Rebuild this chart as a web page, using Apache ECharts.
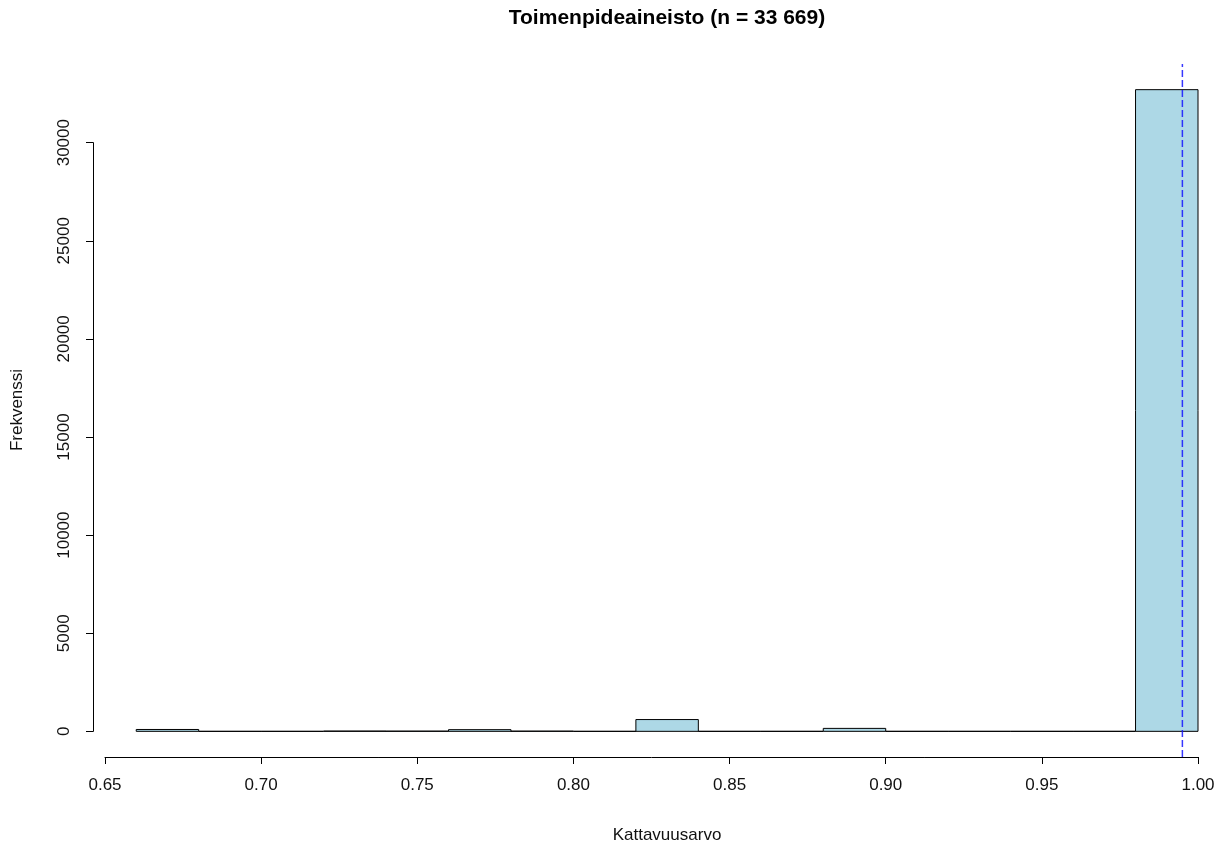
<!DOCTYPE html>
<html>
<head>
<meta charset="utf-8">
<script src="https://cdn.jsdelivr.net/npm/echarts@6/dist/echarts.min.js"></script>
<style>
  html, body { margin: 0; padding: 0; background: #fff; }
  #chart { width: 1222px; height: 847px; }
</style>
</head>
<body>
<div id="chart"></div>
<script>
// Histogram bin edges (lower edge of each 0.02-wide bin) and counts
const binStarts = [0.66, 0.68, 0.70, 0.72, 0.74, 0.76, 0.78, 0.80, 0.82, 0.84, 0.86, 0.88, 0.90, 0.92, 0.94, 0.96, 0.98];
const binWidth = 0.02;
const counts = [95, 0, 0, 15, 12, 85, 12, 0, 600, 0, 0, 150, 0, 0, 0, 0, 32700];
const refLine = 0.995;           // dashed reference value
const xTicks = [0.65, 0.70, 0.75, 0.80, 0.85, 0.90, 0.95, 1.00];
const yTicks = [0, 5000, 10000, 15000, 20000, 25000, 30000];

const maxCount = Math.max(...counts);
const pad = 0.04 * maxCount;     // 4% axis extension on each side

// plot region geometry (pixels)
const plotTop = 64, plotBottom = 757;
const pxPerUnit = (plotBottom - plotTop) / (maxCount + 2 * pad);
const zeroY = plotBottom - pad * pxPerUnit;
const yAxisTopY = zeroY - yTicks[yTicks.length - 1] * pxPerUnit;

const FONT = '"Liberation Sans", Arial, sans-serif';
const chart = echarts.init(document.getElementById('chart'), null, { renderer: 'canvas' });

const bars = binStarts.map((s, i) => [s, s + binWidth, counts[i]]);

chart.setOption({
  animation: false,
  backgroundColor: '#ffffff',
  grid: [
    { left: 105, right: 24, top: plotTop, bottom: 847 - plotBottom, containLabel: false },
    { left: 93, width: 1, top: yAxisTopY, bottom: 847 - zeroY, containLabel: false }
  ],
  xAxis: [
    {
      gridIndex: 0, type: 'value', min: xTicks[0], max: xTicks[xTicks.length - 1], interval: 0.05,
      axisLine: { show: true, onZero: false, lineStyle: { color: '#000', width: 1 } },
      axisTick: { show: true, length: 7, lineStyle: { color: '#000' } },
      axisLabel: {
        margin: 20, color: '#111', fontFamily: FONT, fontSize: 17,
        formatter: v => v.toFixed(2)
      },
      splitLine: { show: false }
    },
    { gridIndex: 1, type: 'value', show: false, min: 0, max: 1 }
  ],
  yAxis: [
    {
      gridIndex: 0, type: 'value', show: false,
      min: -pad, max: maxCount + pad
    },
    {
      gridIndex: 1, type: 'value', min: yTicks[0], max: yTicks[yTicks.length - 1], interval: 5000,
      axisLine: { show: true, lineStyle: { color: '#000', width: 1 } },
      axisTick: { show: true, length: 7, lineStyle: { color: '#000' } },
      axisLabel: {
        rotate: 90, margin: 20, color: '#111', fontFamily: FONT, fontSize: 17,
        formatter: v => String(v)
      },
      splitLine: { show: false }
    }
  ],
  graphic: [
    {
      type: 'text', x: 667, y: 18,
      style: {
        text: 'Toimenpideaineisto (n = 33 669)',
        fontFamily: FONT, fontSize: 21, fontWeight: 'bold', fill: '#000',
        align: 'center', verticalAlign: 'middle'
      }
    },
    {
      type: 'text', x: 667, y: 835,
      style: {
        text: 'Kattavuusarvo', fontFamily: FONT, fontSize: 17, fill: '#111',
        align: 'center', verticalAlign: 'middle'
      }
    },
    {
      type: 'text', x: 17, y: 410, rotation: Math.PI / 2,
      style: {
        text: 'Frekvenssi', fontFamily: FONT, fontSize: 17, fill: '#111',
        align: 'center', verticalAlign: 'middle'
      }
    }
  ],
  series: [
    {
      type: 'custom',
      xAxisIndex: 0, yAxisIndex: 0,
      data: bars,
      renderItem: function (params, api) {
        const p0 = api.coord([api.value(0), api.value(2)]);
        const p1 = api.coord([api.value(1), 0]);
        return {
          type: 'rect',
          shape: { x: p0[0], y: p0[1], width: p1[0] - p0[0], height: p1[1] - p0[1] },
          style: { fill: '#ADD8E6', stroke: '#000', lineWidth: 1 }
        };
      }
    },
    {
      // vertical dashed reference line across the full plot region
      type: 'line',
      xAxisIndex: 0, yAxisIndex: 0,
      data: [[refLine, -pad], [refLine, maxCount + pad]],
      symbol: 'none', silent: true,
      lineStyle: { color: 'rgba(20,20,255,0.85)', type: [7, 3], width: 1.5 },
      z: 5
    }
  ]
});
</script>
</body>
</html>
